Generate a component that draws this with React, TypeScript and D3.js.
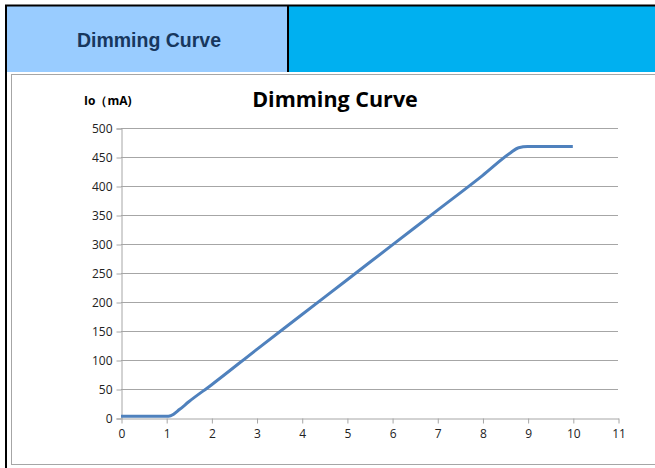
import * as d3 from "d3";
import { useEffect, useRef } from "react";

// dimming voltage (V) vs output current (mA)
const voltage = [0, 0.5, 1, 1.1, 1.3, 1.5, 2, 3, 4, 5, 6, 7, 8, 8.6, 8.8, 9, 9.5, 10];
const current = [3, 3, 3, 4, 15, 28, 57, 118, 178, 238, 298, 358, 418, 456, 466, 468, 468, 468];
const xTicks = [0, 1, 2, 3, 4, 5, 6, 7, 8, 9, 10, 11];
const yTicks = [0, 50, 100, 150, 200, 250, 300, 350, 400, 450, 500];

const W = 655;
const H = 468;
const left = 121;
const right = 618;
const top = 128;
const bottom = 418;

export default function App() {
  const ref = useRef<SVGSVGElement>(null);

  useEffect(() => {
    const svg = d3.select(ref.current);
    svg.selectAll("*").remove();

    // header strip
    svg.append("rect").attr("x", 6).attr("y", 5).attr("width", 282).attr("height", 67).attr("fill", "#99ccff");
    svg.append("rect").attr("x", 288).attr("y", 5).attr("width", W - 288).attr("height", 67).attr("fill", "#00b0f0");
    svg.append("line").attr("x1", 5).attr("x2", W).attr("y1", 5.5).attr("y2", 5.5).attr("stroke", "#000").attr("stroke-width", 2);
    svg.append("line").attr("x1", 288).attr("x2", 288).attr("y1", 5).attr("y2", 72).attr("stroke", "#000").attr("stroke-width", 2);
    svg.append("line").attr("x1", 6).attr("x2", 6).attr("y1", 5).attr("y2", H).attr("stroke", "#000").attr("stroke-width", 2);
    svg
      .append("text")
      .attr("x", 149)
      .attr("y", 47)
      .attr("text-anchor", "middle")
      .attr("font-family", "Liberation Sans, Arial, sans-serif")
      .attr("font-weight", "bold")
      .attr("font-size", 19.5)
      .attr("fill", "#17375e")
      .text("Dimming Curve");

    // chart frame
    svg
      .append("rect")
      .attr("x", 11.5)
      .attr("y", 74.5)
      .attr("width", W - 11)
      .attr("height", 390)
      .attr("fill", "#fff")
      .attr("stroke", "#a6a6a6");

    const x = d3.scaleLinear().domain([0, 11]).range([left, right]);
    const y = d3.scaleLinear().domain([0, 500]).range([bottom, top]);

    const g = svg.append("g").attr("font-family", "Open Sans, DejaVu Sans, sans-serif");

    // gridlines
    g.selectAll(".grid")
      .data(yTicks.filter((d) => d > 0))
      .join("line")
      .attr("x1", left)
      .attr("x2", right)
      .attr("y1", (d) => y(d) + 0.5)
      .attr("y2", (d) => y(d) + 0.5)
      .attr("stroke", "#a6a6a6");

    // y axis
    const yAxis = g
      .append("g")
      .attr("transform", `translate(${left + 0.5},0.5)`)
      .call(d3.axisLeft(y).tickValues(yTicks).tickSize(5).tickPadding(4));
    yAxis.select(".domain").attr("stroke", "#a6a6a6");
    yAxis.selectAll(".tick line").attr("stroke", "#a6a6a6");
    yAxis.selectAll("text").attr("font-size", 12).attr("fill", "#222").attr("font-family", "Open Sans, sans-serif");

    // x axis
    const xAxis = g
      .append("g")
      .attr("transform", `translate(0.5,${bottom + 0.5})`)
      .call(d3.axisBottom(x).tickValues(xTicks).tickSize(5).tickPadding(6).tickSizeOuter(0));
    xAxis.select(".domain").attr("stroke", "#a6a6a6");
    xAxis.selectAll(".tick line").attr("stroke", "#a6a6a6");
    xAxis.selectAll("text").attr("font-size", 12).attr("fill", "#222").attr("font-family", "Open Sans, sans-serif");

    // titles
    g.append("text")
      .attr("x", 335)
      .attr("y", 107)
      .attr("text-anchor", "middle")
      .attr("font-weight", "bold")
      .attr("font-size", 21.5)
      .attr("fill", "#000")
      .text("Dimming Curve");
    g.append("text")
      .attr("x", 84)
      .attr("y", 105)
      .attr("font-weight", "bold")
      .attr("font-size", 12)
      .attr("fill", "#000")
      .text("Io（mA)");

    // curve
    const pts = voltage.map((v, i) => [v, current[i]] as [number, number]);
    const line = d3
      .line<[number, number]>()
      .x((d) => x(d[0]))
      .y((d) => y(d[1]))
      .curve(d3.curveMonotoneX);
    g.append("path")
      .attr("d", line(pts))
      .attr("fill", "none")
      .attr("stroke", "#4f81bd")
      .attr("stroke-width", 3)
      .attr("stroke-linejoin", "round");
  }, []);

  return (
    <svg
      ref={ref}
      width={W}
      height={H}
      style={{ position: "absolute", left: 0, top: 0, background: "#fff" }}
    />
  );
}
